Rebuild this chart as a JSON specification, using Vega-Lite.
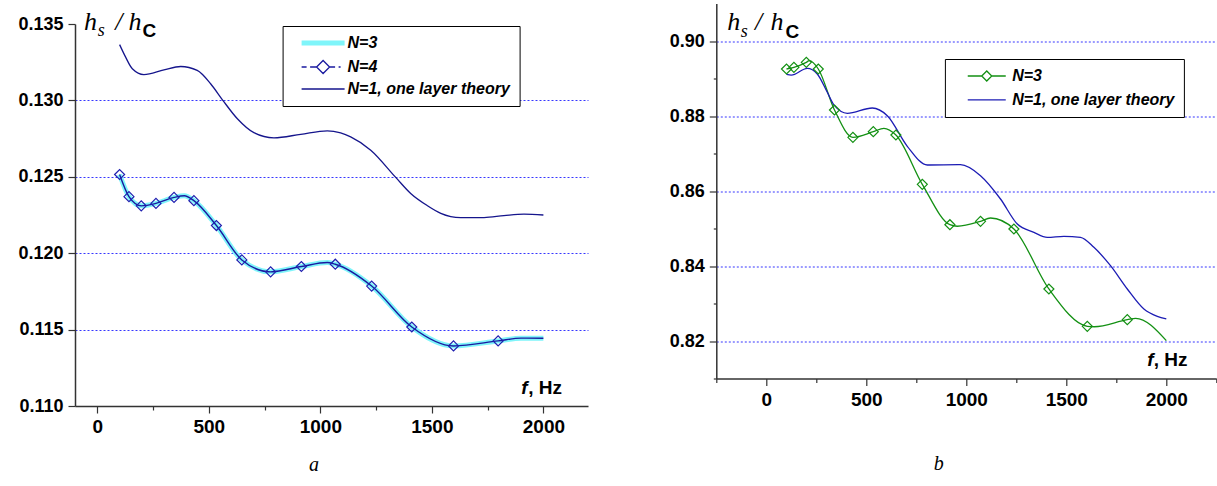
{
  "$schema": "https://vega.github.io/schema/vega-lite/v6.json",
  "padding": {"left": 17, "top": 0.5, "right": 0, "bottom": 0},
  "bounds": "flush",
  "spacing": 641.3,
  "config": {
    "view": {"stroke": null},
    "axis": {"grid": false, "gridColor": "#3636ff", "labelFont": "Liberation Sans", "labelFontWeight": "bold", "labelColor": "black", "domainColor": "#333333", "domainWidth": 1.5, "tickColor": "#333333", "tickWidth": 1.2, "labelFlush": false, "labelOverlap": false},
    "legend": {"title": null, "orient": "none", "labelFont": "Liberation Sans", "labelFontSize": 16, "labelFontWeight": "bold", "labelFontStyle": "italic", "labelColor": "black", "labelLimit": 0, "strokeColor": "black", "fillColor": "white", "padding": 9, "symbolSize": 100, "symbolType": "stroke"}
  },
  "resolve": {"scale": {"color": "independent"}, "legend": {"color": "independent"}},
  "datasets": {
    "left_curves": [
      {"s": "N=3", "f": 100, "v": 0.12515}, {"s": "N=3", "f": 142, "v": 0.1237}, {"s": "N=3", "f": 197, "v": 0.1231}, {"s": "N=3", "f": 263, "v": 0.12326}, {"s": "N=3", "f": 344, "v": 0.12365}, {"s": "N=3", "f": 390, "v": 0.12376}, {"s": "N=3", "f": 433, "v": 0.12344}, {"s": "N=3", "f": 534, "v": 0.12181}, {"s": "N=3", "f": 648, "v": 0.11956}, {"s": "N=3", "f": 777, "v": 0.11878}, {"s": "N=3", "f": 915, "v": 0.11913}, {"s": "N=3", "f": 1031, "v": 0.11939}, {"s": "N=3", "f": 1067, "v": 0.11928}, {"s": "N=3", "f": 1230, "v": 0.11785}, {"s": "N=3", "f": 1410, "v": 0.11517}, {"s": "N=3", "f": 1597, "v": 0.11393}, {"s": "N=3", "f": 1797, "v": 0.11426}, {"s": "N=3", "f": 1900, "v": 0.11444}, {"s": "N=3", "f": 2000, "v": 0.11443},
      {"s": "N=4", "f": 100, "v": 0.12515}, {"s": "N=4", "f": 142, "v": 0.1237}, {"s": "N=4", "f": 197, "v": 0.1231}, {"s": "N=4", "f": 263, "v": 0.12326}, {"s": "N=4", "f": 344, "v": 0.12365}, {"s": "N=4", "f": 390, "v": 0.12376}, {"s": "N=4", "f": 433, "v": 0.12344}, {"s": "N=4", "f": 534, "v": 0.12181}, {"s": "N=4", "f": 648, "v": 0.11956}, {"s": "N=4", "f": 777, "v": 0.11878}, {"s": "N=4", "f": 915, "v": 0.11913}, {"s": "N=4", "f": 1031, "v": 0.11939}, {"s": "N=4", "f": 1067, "v": 0.11928}, {"s": "N=4", "f": 1230, "v": 0.11785}, {"s": "N=4", "f": 1410, "v": 0.11517}, {"s": "N=4", "f": 1597, "v": 0.11393}, {"s": "N=4", "f": 1797, "v": 0.11426}, {"s": "N=4", "f": 1900, "v": 0.11444}, {"s": "N=4", "f": 2000, "v": 0.11443},
      {"s": "N=1, one layer theory", "f": 100, "v": 0.13365}, {"s": "N=1, one layer theory", "f": 127, "v": 0.13283}, {"s": "N=1, one layer theory", "f": 157, "v": 0.13207}, {"s": "N=1, one layer theory", "f": 209, "v": 0.13169}, {"s": "N=1, one layer theory", "f": 299, "v": 0.132}, {"s": "N=1, one layer theory", "f": 374, "v": 0.13222}, {"s": "N=1, one layer theory", "f": 448, "v": 0.13196}, {"s": "N=1, one layer theory", "f": 508, "v": 0.13109}, {"s": "N=1, one layer theory", "f": 561, "v": 0.13004}, {"s": "N=1, one layer theory", "f": 628, "v": 0.1288}, {"s": "N=1, one layer theory", "f": 702, "v": 0.12789}, {"s": "N=1, one layer theory", "f": 792, "v": 0.12755}, {"s": "N=1, one layer theory", "f": 912, "v": 0.12778}, {"s": "N=1, one layer theory", "f": 1031, "v": 0.12801}, {"s": "N=1, one layer theory", "f": 1091, "v": 0.12787}, {"s": "N=1, one layer theory", "f": 1136, "v": 0.12761}, {"s": "N=1, one layer theory", "f": 1226, "v": 0.12674}, {"s": "N=1, one layer theory", "f": 1338, "v": 0.12496}, {"s": "N=1, one layer theory", "f": 1405, "v": 0.12391}, {"s": "N=1, one layer theory", "f": 1480, "v": 0.12311}, {"s": "N=1, one layer theory", "f": 1540, "v": 0.12261}, {"s": "N=1, one layer theory", "f": 1629, "v": 0.12233}, {"s": "N=1, one layer theory", "f": 1734, "v": 0.12233}, {"s": "N=1, one layer theory", "f": 1823, "v": 0.12246}, {"s": "N=1, one layer theory", "f": 1913, "v": 0.12256}, {"s": "N=1, one layer theory", "f": 2000, "v": 0.1225}
    ],
    "left_markers": [
      {"f": 100, "v": 0.12515}, {"f": 142, "v": 0.1237}, {"f": 197, "v": 0.1231}, {"f": 263, "v": 0.12326}, {"f": 344, "v": 0.12365}, {"f": 433, "v": 0.12344}, {"f": 534, "v": 0.12181}, {"f": 648, "v": 0.11956}, {"f": 777, "v": 0.11878}, {"f": 915, "v": 0.11913}, {"f": 1067, "v": 0.11928}, {"f": 1230, "v": 0.11785}, {"f": 1410, "v": 0.11517}, {"f": 1597, "v": 0.11393}, {"f": 1797, "v": 0.11426}
    ],
    "left_text": [
      {"id": "h1", "f": -60, "v": 0.13461, "t": "h"},
      {"id": "s", "f": 2, "v": 0.13422, "t": "s"},
      {"id": "slash", "f": 80, "v": 0.13461, "t": "/"},
      {"id": "h2", "f": 140, "v": 0.13461, "t": "h"},
      {"id": "C", "f": 203, "v": 0.13415, "t": "C"},
      {"id": "f", "f": 1901, "v": 0.11076, "t": "f"},
      {"id": "Hz", "f": 1932, "v": 0.11076, "t": ", Hz"}
    ],
    "right_curves": [
      {"s": "N=3", "f": 101, "v": 0.89253}, {"s": "N=3", "f": 138, "v": 0.89298}, {"s": "N=3", "f": 200, "v": 0.89432}, {"s": "N=3", "f": 215, "v": 0.89475}, {"s": "N=3", "f": 260, "v": 0.89253}, {"s": "N=3", "f": 341, "v": 0.8816}, {"s": "N=3", "f": 433, "v": 0.87432}, {"s": "N=3", "f": 535, "v": 0.87582}, {"s": "N=3", "f": 588, "v": 0.87672}, {"s": "N=3", "f": 648, "v": 0.87493}, {"s": "N=3", "f": 780, "v": 0.86178}, {"s": "N=3", "f": 918, "v": 0.85101}, {"s": "N=3", "f": 955, "v": 0.8506}, {"s": "N=3", "f": 1071, "v": 0.85192}, {"s": "N=3", "f": 1121, "v": 0.8528}, {"s": "N=3", "f": 1238, "v": 0.84987}, {"s": "N=3", "f": 1413, "v": 0.83387}, {"s": "N=3", "f": 1605, "v": 0.82392}, {"s": "N=3", "f": 1640, "v": 0.8238}, {"s": "N=3", "f": 1805, "v": 0.82568}, {"s": "N=3", "f": 1847, "v": 0.82605}, {"s": "N=3", "f": 2000, "v": 0.8201},
      {"s": "N=1, one layer theory", "f": 101, "v": 0.8911}, {"s": "N=1, one layer theory", "f": 125, "v": 0.8909}, {"s": "N=1, one layer theory", "f": 205, "v": 0.89272}, {"s": "N=1, one layer theory", "f": 255, "v": 0.8912}, {"s": "N=1, one layer theory", "f": 305, "v": 0.88632}, {"s": "N=1, one layer theory", "f": 341, "v": 0.88275}, {"s": "N=1, one layer theory", "f": 405, "v": 0.88072}, {"s": "N=1, one layer theory", "f": 530, "v": 0.88213}, {"s": "N=1, one layer theory", "f": 605, "v": 0.88008}, {"s": "N=1, one layer theory", "f": 705, "v": 0.87192}, {"s": "N=1, one layer theory", "f": 805, "v": 0.86693}, {"s": "N=1, one layer theory", "f": 971, "v": 0.86701}, {"s": "N=1, one layer theory", "f": 1071, "v": 0.86408}, {"s": "N=1, one layer theory", "f": 1171, "v": 0.85787}, {"s": "N=1, one layer theory", "f": 1255, "v": 0.8512}, {"s": "N=1, one layer theory", "f": 1338, "v": 0.84898}, {"s": "N=1, one layer theory", "f": 1405, "v": 0.84765}, {"s": "N=1, one layer theory", "f": 1488, "v": 0.84792}, {"s": "N=1, one layer theory", "f": 1571, "v": 0.84765}, {"s": "N=1, one layer theory", "f": 1638, "v": 0.84498}, {"s": "N=1, one layer theory", "f": 1721, "v": 0.84008}, {"s": "N=1, one layer theory", "f": 1805, "v": 0.83387}, {"s": "N=1, one layer theory", "f": 1888, "v": 0.82853}, {"s": "N=1, one layer theory", "f": 1955, "v": 0.82658}, {"s": "N=1, one layer theory", "f": 2000, "v": 0.8259}
    ],
    "right_markers": [
      {"f": 101, "v": 0.89253}, {"f": 138, "v": 0.89298}, {"f": 200, "v": 0.89432}, {"f": 260, "v": 0.89253}, {"f": 341, "v": 0.8816}, {"f": 433, "v": 0.87432}, {"f": 535, "v": 0.87582}, {"f": 648, "v": 0.87493}, {"f": 780, "v": 0.86178}, {"f": 918, "v": 0.85101}, {"f": 1071, "v": 0.85192}, {"f": 1238, "v": 0.84987}, {"f": 1413, "v": 0.83387}, {"f": 1605, "v": 0.82392}, {"f": 1805, "v": 0.82568}
    ],
    "right_text": [
      {"id": "h1", "f": -195, "v": 0.90293, "t": "h"},
      {"id": "s", "f": -128, "v": 0.90107, "t": "s"},
      {"id": "slash", "f": -56, "v": 0.90293, "t": "/"},
      {"id": "h2", "f": 21, "v": 0.90293, "t": "h"},
      {"id": "C", "f": 96, "v": 0.9008, "t": "C"},
      {"id": "f", "f": 1905, "v": 0.8134, "t": "f"},
      {"id": "Hz", "f": 1937, "v": 0.8134, "t": ", Hz"}
    ]
  },
  "hconcat": [
    {
      "bounds": "flush",
      "spacing": 19.5,
      "vconcat": [
        {"data": {"values": [{}]}, "mark": {"type": "point", "opacity": 0}, "width": 513, "height": 1},
        {
          "width": 513,
          "height": 382,
          "layer": [
            {"data": {"name": "left_curves"}, "transform": [{"filter": "datum.s === 'N=3'"}],
              "mark": {"type": "line", "interpolate": "monotone", "strokeWidth": 5},
              "encoding": {
                "x": {"field": "f", "type": "quantitative", "scale": {"domain": [-100, 2200], "nice": false, "zero": false},
                  "axis": {"values": [0, 250, 500, 750, 1000, 1250, 1500, 1750, 2000], "format": "d", "labelExpr": "datum.value % 500 === 0 ? datum.label : ''", "labelFontSize": 19, "labelPadding": 4, "tickSize": {"condition": {"test": "datum.value % 500 !== 0", "value": 4}, "value": 7}, "grid": false,
                    "title": "a", "titleFont": "Liberation Serif", "titleFontStyle": "italic", "titleFontWeight": "normal", "titleFontSize": 20, "titleColor": "black", "titleAlign": "center", "titleBaseline": "alphabetic", "titleX": 238.6, "titleY": 64}},
                "y": {"field": "v", "type": "quantitative", "scale": {"domain": [0.11, 0.135], "nice": false, "zero": false},
                  "axis": {"values": [0.11, 0.1125, 0.115, 0.1175, 0.12, 0.1225, 0.125, 0.1275, 0.13, 0.1325, 0.135], "labelExpr": "round(datum.value*400) % 2 === 1 ? '' : format(datum.value, '.3f')", "labelFontSize": 18, "labelPadding": 5, "tickSize": {"condition": {"test": "round(datum.value*400) % 2 === 1", "value": 3}, "value": 7}, "title": null,
                    "grid": true, "gridColor": "#3636ff", "gridDash": [2, 2], "gridWidth": 1, "gridOpacity": {"condition": {"test": "round(datum.value*400) % 2 === 0 && datum.value > 0.111 && datum.value < 0.134", "value": 1}, "value": 0}}},
                "color": {"field": "s", "type": "nominal", "scale": {"domain": ["N=3", "N=4", "N=1, one layer theory"], "range": ["#7ff5fa", "#1a1aa0", "#15158c"]},
                  "legend": {"legendX": 207.6, "legendY": 22.5, "padding": 9, "rowPadding": 4, "symbolOffset": 23.5, "labelOffset": 16.4,
                    "encode": {"symbols": {"update": {"shape": {"signal": "datum.value === 'N=4' ? 'M-4.3,0H-3.3M-2.6,0H-1.3M1.3,0H2.4M3.1,0H3.5M-1.3,0L0,-1.3L1.3,0L0,1.3Z' : 'M-4.3,0H4.3'"}, "strokeWidth": {"signal": "datum.value === 'N=3' ? 5 : 1.3"}, "fill": {"value": "white"}}}}}}}},
            {"data": {"name": "left_curves"}, "transform": [{"filter": "datum.s === 'N=4'"}],
              "mark": {"type": "line", "interpolate": "monotone", "strokeWidth": 1.4},
              "encoding": {"x": {"field": "f", "type": "quantitative"}, "y": {"field": "v", "type": "quantitative"}, "color": {"field": "s", "type": "nominal"}}},
            {"data": {"name": "left_curves"}, "transform": [{"filter": "datum.s === 'N=1, one layer theory'"}],
              "mark": {"type": "line", "interpolate": "monotone", "strokeWidth": 1.3},
              "encoding": {"x": {"field": "f", "type": "quantitative"}, "y": {"field": "v", "type": "quantitative"}, "color": {"field": "s", "type": "nominal"}}},
            {"data": {"name": "left_markers"},
              "mark": {"type": "point", "shape": "diamond", "filled": false, "size": 100, "color": "#2020b0", "strokeWidth": 1.2, "opacity": 1},
              "encoding": {"x": {"field": "f", "type": "quantitative"}, "y": {"field": "v", "type": "quantitative"}}},
            {"data": {"name": "left_text"}, "transform": [{"filter": "datum.id === 'h1' || datum.id === 'slash' || datum.id === 'h2'"}],
              "mark": {"type": "text", "font": "Liberation Serif", "fontStyle": "italic", "fontSize": 26, "align": "left", "baseline": "alphabetic", "color": "black"},
              "encoding": {"x": {"field": "f", "type": "quantitative"}, "y": {"field": "v", "type": "quantitative"}, "text": {"field": "t"}}},
            {"data": {"name": "left_text"}, "transform": [{"filter": "datum.id === 's'"}],
              "mark": {"type": "text", "font": "Liberation Serif", "fontStyle": "italic", "fontSize": 18, "align": "left", "baseline": "alphabetic", "color": "black"},
              "encoding": {"x": {"field": "f", "type": "quantitative"}, "y": {"field": "v", "type": "quantitative"}, "text": {"field": "t"}}},
            {"data": {"name": "left_text"}, "transform": [{"filter": "datum.id === 'C' || datum.id === 'Hz'"}],
              "mark": {"type": "text", "font": "Liberation Sans", "fontWeight": "bold", "fontSize": 19, "align": "left", "baseline": "alphabetic", "color": "black"},
              "encoding": {"x": {"field": "f", "type": "quantitative"}, "y": {"field": "v", "type": "quantitative"}, "text": {"field": "t"}}},
            {"data": {"name": "left_text"}, "transform": [{"filter": "datum.id === 'f'"}],
              "mark": {"type": "text", "font": "Liberation Sans", "fontWeight": "bold", "fontStyle": "italic", "fontSize": 19, "align": "left", "baseline": "alphabetic", "color": "black"},
              "encoding": {"x": {"field": "f", "type": "quantitative"}, "y": {"field": "v", "type": "quantitative"}, "text": {"field": "t"}}}
          ]
        }
      ]
    },
    {
      "width": 500,
      "height": 375,
      "layer": [
        {"data": {"name": "right_curves"}, "transform": [{"filter": "datum.s === 'N=3'"}],
          "mark": {"type": "line", "interpolate": "monotone", "strokeWidth": 1.3},
          "encoding": {
            "x": {"field": "f", "type": "quantitative", "scale": {"domain": [-250, 2250], "nice": false, "zero": false},
              "axis": {"values": [-250, 0, 250, 500, 750, 1000, 1250, 1500, 1750, 2000, 2250], "format": "d", "labelExpr": "datum.value % 500 === 0 ? datum.label : ''", "labelFontSize": 19, "labelPadding": 5, "tickSize": {"condition": {"test": "datum.value % 500 !== 0", "value": 4}, "value": 7}, "grid": false,
                "title": "b", "titleFont": "Liberation Serif", "titleFontStyle": "italic", "titleFontWeight": "normal", "titleFontSize": 20, "titleColor": "black", "titleAlign": "center", "titleBaseline": "alphabetic", "titleX": 222, "titleY": 91}},
            "y": {"field": "v", "type": "quantitative", "scale": {"domain": [0.81, 0.91], "nice": false, "zero": false},
              "axis": {"values": [0.81, 0.82, 0.83, 0.84, 0.85, 0.86, 0.87, 0.88, 0.89, 0.9], "labelExpr": "round(datum.value*100) % 2 === 1 ? '' : format(datum.value, '.2f')", "labelFontSize": 18, "labelPadding": 5, "tickSize": {"condition": {"test": "round(datum.value*100) % 2 === 1", "value": 3}, "value": 7}, "title": null,
                "grid": true, "gridColor": "#3636ff", "gridDash": [2, 2], "gridWidth": 1, "gridOpacity": {"condition": {"test": "round(datum.value*100) % 2 === 0", "value": 1}, "value": 0}}},
            "color": {"field": "s", "type": "nominal", "scale": {"domain": ["N=3", "N=1, one layer theory"], "range": ["#139013", "#1c1cb4"]},
              "legend": {"legendX": 228.6, "legendY": 55.5, "padding": 9, "rowPadding": 7.9, "symbolOffset": 24.85, "labelOffset": 17.4,
                "encode": {"symbols": {"update": {"shape": {"signal": "datum.value === 'N=3' ? 'M-3.8,0H-1M1,0H3.8M-1,0L0,-1L1,0L0,1Z' : 'M-3.8,0H3.8'"}, "strokeWidth": {"value": 1.3}, "fill": {"value": "white"}}}}}}}},
        {"data": {"name": "right_curves"}, "transform": [{"filter": "datum.s === 'N=1, one layer theory'"}],
          "mark": {"type": "line", "interpolate": "monotone", "strokeWidth": 1.3},
          "encoding": {"x": {"field": "f", "type": "quantitative"}, "y": {"field": "v", "type": "quantitative"}, "color": {"field": "s", "type": "nominal"}}},
        {"data": {"name": "right_markers"},
          "mark": {"type": "point", "shape": "diamond", "filled": false, "size": 100, "color": "#139013", "strokeWidth": 1.2, "opacity": 1},
          "encoding": {"x": {"field": "f", "type": "quantitative"}, "y": {"field": "v", "type": "quantitative"}}},
        {"data": {"name": "right_text"}, "transform": [{"filter": "datum.id === 'h1' || datum.id === 'slash' || datum.id === 'h2'"}],
          "mark": {"type": "text", "font": "Liberation Serif", "fontStyle": "italic", "fontSize": 26, "align": "left", "baseline": "alphabetic", "color": "black"},
          "encoding": {"x": {"field": "f", "type": "quantitative"}, "y": {"field": "v", "type": "quantitative"}, "text": {"field": "t"}}},
        {"data": {"name": "right_text"}, "transform": [{"filter": "datum.id === 's'"}],
          "mark": {"type": "text", "font": "Liberation Serif", "fontStyle": "italic", "fontSize": 18, "align": "left", "baseline": "alphabetic", "color": "black"},
          "encoding": {"x": {"field": "f", "type": "quantitative"}, "y": {"field": "v", "type": "quantitative"}, "text": {"field": "t"}}},
        {"data": {"name": "right_text"}, "transform": [{"filter": "datum.id === 'C' || datum.id === 'Hz'"}],
          "mark": {"type": "text", "font": "Liberation Sans", "fontWeight": "bold", "fontSize": 19, "align": "left", "baseline": "alphabetic", "color": "black"},
          "encoding": {"x": {"field": "f", "type": "quantitative"}, "y": {"field": "v", "type": "quantitative"}, "text": {"field": "t"}}},
        {"data": {"name": "right_text"}, "transform": [{"filter": "datum.id === 'f'"}],
          "mark": {"type": "text", "font": "Liberation Sans", "fontWeight": "bold", "fontStyle": "italic", "fontSize": 19, "align": "left", "baseline": "alphabetic", "color": "black"},
          "encoding": {"x": {"field": "f", "type": "quantitative"}, "y": {"field": "v", "type": "quantitative"}, "text": {"field": "t"}}}
      ]
    }
  ]
}
